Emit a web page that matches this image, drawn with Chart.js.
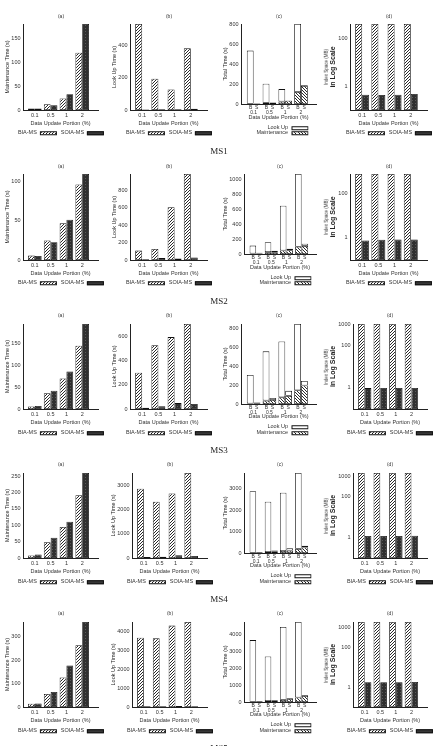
<!DOCTYPE html>
<html><head><meta charset="utf-8">
<script src="https://cdn.jsdelivr.net/npm/chart.js@4.4.1/dist/chart.umd.min.js"></script>
<style>
html,body{margin:0;padding:0;background:#fff;width:438px;height:746px;overflow:hidden;-webkit-font-smoothing:antialiased;}
#root{position:relative;width:438px;height:746px;overflow:hidden;}
canvas{position:absolute;}
.t{position:absolute;font-family:'Liberation Sans',Arial,sans-serif;color:#333;white-space:nowrap;line-height:1;transform:translate(-50%,-50%);will-change:transform;-webkit-font-smoothing:antialiased;}
.rot{transform:translate(-50%,-50%) rotate(-90deg);}
.ms{position:absolute;font-family:'Liberation Serif','Times New Roman',serif;color:#222;font-size:9px;line-height:1;transform:translateX(-50%);white-space:nowrap;will-change:transform;-webkit-font-smoothing:antialiased;}
.lg{position:absolute;transform:translate(-50%,-50%);display:flex;align-items:center;font-family:'Liberation Sans',Arial,sans-serif;font-size:5.5px;color:#333;white-space:nowrap;line-height:1;will-change:transform;-webkit-font-smoothing:antialiased;}
.lgr{position:absolute;transform:translate(-100%,-50%);display:flex;align-items:center;font-family:'Liberation Sans',Arial,sans-serif;font-size:5.5px;color:#333;white-space:nowrap;line-height:1;will-change:transform;-webkit-font-smoothing:antialiased;}
.sw{display:inline-block;width:17px;height:4px;margin-left:3px;border:0.7px solid #111;box-sizing:border-box;}
.hb{background:repeating-linear-gradient(135deg,#111 0 0.8px,#fff 0.8px 2.1px);}
.hm{background:repeating-linear-gradient(45deg,#111 0 0.8px,#fff 0.8px 2.4px);}
.dk{background:#363636;}
.wh{background:#fff;}
</style></head>
<body><div id="root"></div>
<script>
// ---------- data ----------
const CATS = ['0.1', '0.5', '1', '2'];
const CATS_C = [['B  S', '0.1'], ['B  S', '0.5'], ['B  S', '1'], ['B  S', '2']];

// MS1
const MS1_MAINT_BIA = [3, 12, 24, 120];
const MS1_MAINT_SOIA = [3, 10, 33, 180];
const MS1_LOOK_BIA = [530, 193, 127, 380];
const MS1_LOOK_SOIA = [3, 5, 5, 8];
const MS1_TOT_LOOK_B = [531, 190, 125, 680];
const MS1_TOT_MAINT_B = [3, 12, 24, 120];
const MS1_TOT_LOOK_S = [5, 5, 3, 8];
const MS1_TOT_MAINT_S = [3, 10, 33, 180];
const MS1_SPACE_BIA = [400, 400, 400, 400];
const MS1_SPACE_SOIA = [0.44, 0.43, 0.44, 0.47];
const MS1_TICKS_A = [0, 50, 100, 150];
const MS1_TICKS_B = [0, 200, 400];
const MS1_TICKS_C = [0, 200, 400, 600, 800];
const MS1_TICKS_D = [1, 100];
const MS1_MAX = [180, 530, 800, 400];

// MS2
const MS2_MAINT_BIA = [5.6, 25, 47, 96.6];
const MS2_MAINT_SOIA = [5.2, 22.7, 51.5, 110];
const MS2_LOOK_BIA = [108, 127, 608, 990];
const MS2_LOOK_SOIA = [10, 22, 18, 28];
const MS2_TOT_LOOK_B = [108, 133, 606, 984];
const MS2_TOT_MAINT_B = [5.6, 25, 47, 97];
const MS2_TOT_LOOK_S = [10, 22, 18, 28];
const MS2_TOT_MAINT_S = [5.2, 22.7, 51.5, 110];
const MS2_SPACE_BIA = [740, 740, 740, 740];
const MS2_SPACE_SOIA = [0.76, 0.81, 0.84, 0.84];
const MS2_TICKS_A = [0, 50, 100];
const MS2_TICKS_B = [0, 200, 400, 600, 800];
const MS2_TICKS_C = [0, 200, 400, 600, 800, 1000];
const MS2_TICKS_D = [1, 100];
const MS2_MAX = [110, 990, 1080, 740];

// MS3
const MS3_MAINT_BIA = [6, 36, 70, 145];
const MS3_MAINT_SOIA = [7, 42, 86, 195];
const MS3_LOOK_BIA = [301, 529, 597, 706];
const MS3_LOOK_SOIA = [11, 22, 49, 41];
const MS3_TOT_LOOK_B = [300, 520, 591, 700];
const MS3_TOT_MAINT_B = [6, 36, 70, 145];
const MS3_TOT_LOOK_S = [10, 21, 53, 48];
const MS3_TOT_MAINT_S = [7, 42, 86, 195];
const MS3_SPACE_BIA = [1080, 1080, 1080, 1080];
const MS3_SPACE_SOIA = [0.98, 1.0, 1.0, 1.0];
const MS3_TICKS_A = [0, 50, 100, 150];
const MS3_TICKS_B = [0, 200, 400, 600];
const MS3_TICKS_C = [0, 200, 400, 600, 800];
const MS3_TICKS_D = [1, 100, 1000];
const MS3_MAX = [195, 706, 845, 1080];

// MS4
const MS4_MAINT_BIA = [8, 48, 95, 192];
const MS4_MAINT_SOIA = [11, 62, 111, 260];
const MS4_LOOK_BIA = [2877, 2342, 2685, 3534];
const MS4_LOOK_SOIA = [40, 55, 110, 82];
const MS4_TOT_LOOK_B = [2869, 2337, 2705, 3531];
const MS4_TOT_MAINT_B = [8, 48, 95, 192];
const MS4_TOT_LOOK_S = [40, 55, 110, 82];
const MS4_TOT_MAINT_S = [11, 62, 111, 260];
const MS4_SPACE_BIA = [1480, 1480, 1480, 1480];
const MS4_SPACE_SOIA = [1.2, 1.2, 1.2, 1.25];
const MS4_TICKS_A = [0, 50, 100, 150, 200, 250];
const MS4_TICKS_B = [0, 1000, 2000, 3000];
const MS4_TICKS_C = [0, 1000, 2000, 3000];
const MS4_TICKS_D = [1, 100, 1000];
const MS4_MAX = [260, 3534, 3720, 1480];

// MS5
const MS5_MAINT_BIA = [14, 56, 126, 264];
const MS5_MAINT_SOIA = [15, 64, 177, 363];
const MS5_LOOK_BIA = [3655, 3620, 4293, 4483];
const MS5_LOOK_SOIA = [45, 40, 50, 45];
const MS5_TOT_LOOK_B = [3654, 2637, 4323, 4477];
const MS5_TOT_MAINT_B = [14, 56, 126, 264];
const MS5_TOT_LOOK_S = [45, 40, 50, 45];
const MS5_TOT_MAINT_S = [15, 64, 177, 363];
const MS5_SPACE_BIA = [2000, 2000, 2000, 2000];
const MS5_SPACE_SOIA = [1.8, 1.8, 1.8, 1.85];
const MS5_TICKS_A = [0, 100, 200, 300];
const MS5_TICKS_B = [0, 1000, 2000, 3000, 4000];
const MS5_TICKS_C = [0, 1000, 2000, 3000, 4000];
const MS5_TICKS_D = [1, 100, 1000];
const MS5_MAX = [363, 4483, 4741, 2000];

const ROWS = [
  {name:'MS1', mB:MS1_MAINT_BIA, mS:MS1_MAINT_SOIA, lB:MS1_LOOK_BIA, lS:MS1_LOOK_SOIA, tLB:MS1_TOT_LOOK_B, tMB:MS1_TOT_MAINT_B, tLS:MS1_TOT_LOOK_S, tMS:MS1_TOT_MAINT_S, sB:MS1_SPACE_BIA, sS:MS1_SPACE_SOIA, ticks:[MS1_TICKS_A,MS1_TICKS_B,MS1_TICKS_C,MS1_TICKS_D], max:MS1_MAX},
  {name:'MS2', mB:MS2_MAINT_BIA, mS:MS2_MAINT_SOIA, lB:MS2_LOOK_BIA, lS:MS2_LOOK_SOIA, tLB:MS2_TOT_LOOK_B, tMB:MS2_TOT_MAINT_B, tLS:MS2_TOT_LOOK_S, tMS:MS2_TOT_MAINT_S, sB:MS2_SPACE_BIA, sS:MS2_SPACE_SOIA, ticks:[MS2_TICKS_A,MS2_TICKS_B,MS2_TICKS_C,MS2_TICKS_D], max:MS2_MAX},
  {name:'MS3', mB:MS3_MAINT_BIA, mS:MS3_MAINT_SOIA, lB:MS3_LOOK_BIA, lS:MS3_LOOK_SOIA, tLB:MS3_TOT_LOOK_B, tMB:MS3_TOT_MAINT_B, tLS:MS3_TOT_LOOK_S, tMS:MS3_TOT_MAINT_S, sB:MS3_SPACE_BIA, sS:MS3_SPACE_SOIA, ticks:[MS3_TICKS_A,MS3_TICKS_B,MS3_TICKS_C,MS3_TICKS_D], max:MS3_MAX},
  {name:'MS4', mB:MS4_MAINT_BIA, mS:MS4_MAINT_SOIA, lB:MS4_LOOK_BIA, lS:MS4_LOOK_SOIA, tLB:MS4_TOT_LOOK_B, tMB:MS4_TOT_MAINT_B, tLS:MS4_TOT_LOOK_S, tMS:MS4_TOT_MAINT_S, sB:MS4_SPACE_BIA, sS:MS4_SPACE_SOIA, ticks:[MS4_TICKS_A,MS4_TICKS_B,MS4_TICKS_C,MS4_TICKS_D], max:MS4_MAX},
  {name:'MS5', mB:MS5_MAINT_BIA, mS:MS5_MAINT_SOIA, lB:MS5_LOOK_BIA, lS:MS5_LOOK_SOIA, tLB:MS5_TOT_LOOK_B, tMB:MS5_TOT_MAINT_B, tLS:MS5_TOT_LOOK_S, tMS:MS5_TOT_MAINT_S, sB:MS5_SPACE_BIA, sS:MS5_SPACE_SOIA, ticks:[MS5_TICKS_A,MS5_TICKS_B,MS5_TICKS_C,MS5_TICKS_D], max:MS5_MAX}
];

const Y_TITLES = ['Maintenance Time (s)', 'Look Up Time (s)', 'Total Time (s)', 'in Log Scale'];
const PANEL_TITLES = ['(a)', '(b)', '(c)', '(d)'];
const X_TITLE = 'Data Update Portion (%)';

// ---------- layout ----------
const root = document.getElementById('root');
const FONT = "'Liberation Sans', Arial, sans-serif";
Chart.defaults.font.family = FONT;
const T = [15.5, 165.5, 315, 464.3, 613.3];
const BASE_L = [23, 129.5, 241, 350];
const RIGHT = [97.5, 207, 316, 427];
const YW = 32;
const TS = 5.5;
const mctx = document.createElement('canvas').getContext('2d');
function tw(s, size, weight) { mctx.font = (weight || 'normal') + ' ' + size + 'px ' + FONT; return mctx.measureText(s).width; }

function hatch(dir, size, lw) {
  const c = document.createElement('canvas'); c.width = c.height = size;
  const x = c.getContext('2d');
  x.fillStyle = '#fff'; x.fillRect(0, 0, size, size);
  x.strokeStyle = '#111'; x.lineWidth = lw; x.beginPath();
  if (dir > 0) {
    x.moveTo(0, size); x.lineTo(size, 0);
    x.moveTo(-1, 1); x.lineTo(1, -1);
    x.moveTo(size - 1, size + 1); x.lineTo(size + 1, size - 1);
  } else {
    x.moveTo(0, 0); x.lineTo(size, size);
    x.moveTo(-1, size - 1); x.lineTo(1, size + 1);
    x.moveTo(size - 1, -1); x.lineTo(size + 1, 1);
  }
  x.stroke();
  return mctx.createPattern(c, 'repeat');
}
function darkPat() {
  const c = document.createElement('canvas'); c.width = c.height = 3;
  const x = c.getContext('2d');
  x.fillStyle = '#303030'; x.fillRect(0, 0, 3, 3);
  x.fillStyle = '#5a5a5a'; x.fillRect(1, 1, 1, 1);
  return mctx.createPattern(c, 'repeat');
}
const P_BIA = hatch(1, 3, 0.9);
const P_MAINT = hatch(-1, 3, 0.9);
const P_SOIA = darkPat();

function addDiv(cls, html, x, y, style) {
  const d = document.createElement('div'); d.className = cls; d.innerHTML = html;
  d.style.left = x + 'px'; d.style.top = y + 'px';
  if (style) Object.assign(d.style, style);
  root.appendChild(d); return d;
}

function pts(arr) { return arr.map((v, i) => ({x: i, y: v})); }

function panel(r, col) {
  const row = ROWS[r];
  const t = T[r];
  const yTicks = row.ticks[col];
  const isC = col === 2, isD = col === 3;
  const labelW = Math.max(...yTicks.map(v => tw(String(v), TS)));
  const digits = Math.max(...yTicks.map(v => String(v).length));
  const pl = Math.round(BASE_L[col] + Math.max(0, digits - 3) * 2.5);
  const pr = Math.round(RIGHT[col]);
  const ptop = Math.round(t + 8.5);
  const pbot = Math.round(t + (isC ? 88.5 : 94));
  const cbot = Math.round(t + (isC ? 106 : 112));
  const cl = pl - YW, ctop = ptop - 6;
  const W = pr - cl + 2, H = cbot - ctop;
  const cv = document.createElement('canvas');
  cv.width = W; cv.height = H;
  Object.assign(cv.style, {left: cl + 'px', top: ctop + 'px', width: W + 'px', height: H + 'px'});
  root.appendChild(cv);

  const bw = 0.8;
  let datasets;
  if (isC) {
    datasets = [
      {label: 'Maintenance', data: pts(row.tMB), stack: 'B', backgroundColor: P_MAINT, borderColor: '#111', borderWidth: bw, borderSkipped: false},
      {label: 'Look Up', data: pts(row.tLB), stack: 'B', backgroundColor: '#fff', borderColor: '#111', borderWidth: bw, borderSkipped: false},
      {label: 'Maintenance', data: pts(row.tMS), stack: 'S', backgroundColor: P_MAINT, borderColor: '#111', borderWidth: bw, borderSkipped: false},
      {label: 'Look Up', data: pts(row.tLS), stack: 'S', backgroundColor: '#fff', borderColor: '#111', borderWidth: bw, borderSkipped: false}
    ];
  } else {
    const a = col === 0 ? row.mB : col === 1 ? row.lB : row.sB;
    const b = col === 0 ? row.mS : col === 1 ? row.lS : row.sS;
    datasets = [
      {label: 'BIA-MS', data: pts(a), backgroundColor: P_BIA, borderColor: '#111', borderWidth: bw, borderSkipped: false},
      {label: 'SOIA-MS', data: pts(b), backgroundColor: P_SOIA, borderColor: '#111', borderWidth: bw, borderSkipped: false}
    ];
  }

  const yTitleSize = isD ? 7 : TS;
  const yTitleLH = yTitleSize * 1.2;
  const yTitleCenter = YW - 2.5 - labelW - (isD ? 5 : 4);
  const yTitlePad = Math.max(0, yTitleCenter - yTitleLH / 2);
  const xLabels = isC ? CATS_C : CATS;

  new Chart(cv, {
    type: 'bar',
    data: {datasets},
    options: {
      responsive: false, animation: false, events: [],
      layout: {padding: {left: 0, right: 2, top: 6, bottom: 0}},
      categoryPercentage: 0.86, barPercentage: 1,
      plugins: {legend: {display: false}, title: {display: false}, tooltip: {enabled: false}},
      scales: {
        x: {
          type: 'linear', min: isC ? -0.8 : -0.75, max: isC ? 3.95 : 4.0, offset: false,
          grid: {display: false, drawTicks: false},
          border: {display: true, color: '#222', width: 1},
          ticks: {font: {size: isC ? 5 : TS, lineHeight: isC ? 0.95 : 1.2}, color: '#333', padding: isC ? 1.6 : 2, maxRotation: 0, autoSkip: false,
                  callback: (v, i) => xLabels[i]},
          title: {display: true, text: X_TITLE, font: {size: TS}, color: '#333', padding: {top: 0, bottom: 1.2}},
          afterBuildTicks: s => { s.ticks = CATS.map((c, i) => ({value: i})); },
          afterFit: s => { s.height = cbot - pbot; }
        },
        y: {
          type: isD ? 'logarithmic' : 'linear',
          min: isD ? 0.1 : 0, max: row.max[col], stacked: isC,
          grid: {display: false, drawTicks: false},
          border: {display: true, color: '#222', width: 1},
          ticks: {font: {size: TS}, color: '#333', padding: 2.5, autoSkip: false, callback: v => String(v)},
          title: {display: true, text: Y_TITLES[col], font: {size: yTitleSize, weight: isD ? 'bold' : 'normal'}, color: '#222', padding: {top: yTitlePad, bottom: 0}},
          afterBuildTicks: s => { s.ticks = yTicks.map(v => ({value: v})); },
          afterFit: s => { s.width = YW; }
        }
      }
    }
  });

  const cx = (pl + pr) / 2;
  addDiv('t', PANEL_TITLES[col], cx, t, {fontSize: '5px'});
  if (isD) {
    const x2 = pl - 2.5 - labelW - 5 - 6.5;
    addDiv('t rot', 'Index Space (MB)', x2, (ptop + pbot) / 2, {fontSize: '4.5px'});
  }
  if (isC) {
    const tr = pl + 47;
    addDiv('lgr', '<span>Look Up</span><i class="sw wh"></i>', tr + 20, t + 112);
    addDiv('lgr', '<span>Maintenance</span><i class="sw hm"></i>', tr + 20, t + 117.5);
  } else {
    addDiv('lg', '<span>BIA-MS</span><i class="sw hb"></i><span style="margin-left:4px">SOIA-MS</span><i class="sw dk"></i>', cx, t + 117.5);
  }
}

for (let r = 0; r < ROWS.length; r++) {
  for (let c = 0; c < 4; c++) panel(r, c);
  addDiv('ms', ROWS[r].name, 219, T[r] + 131);
}
</script>
</body></html>
